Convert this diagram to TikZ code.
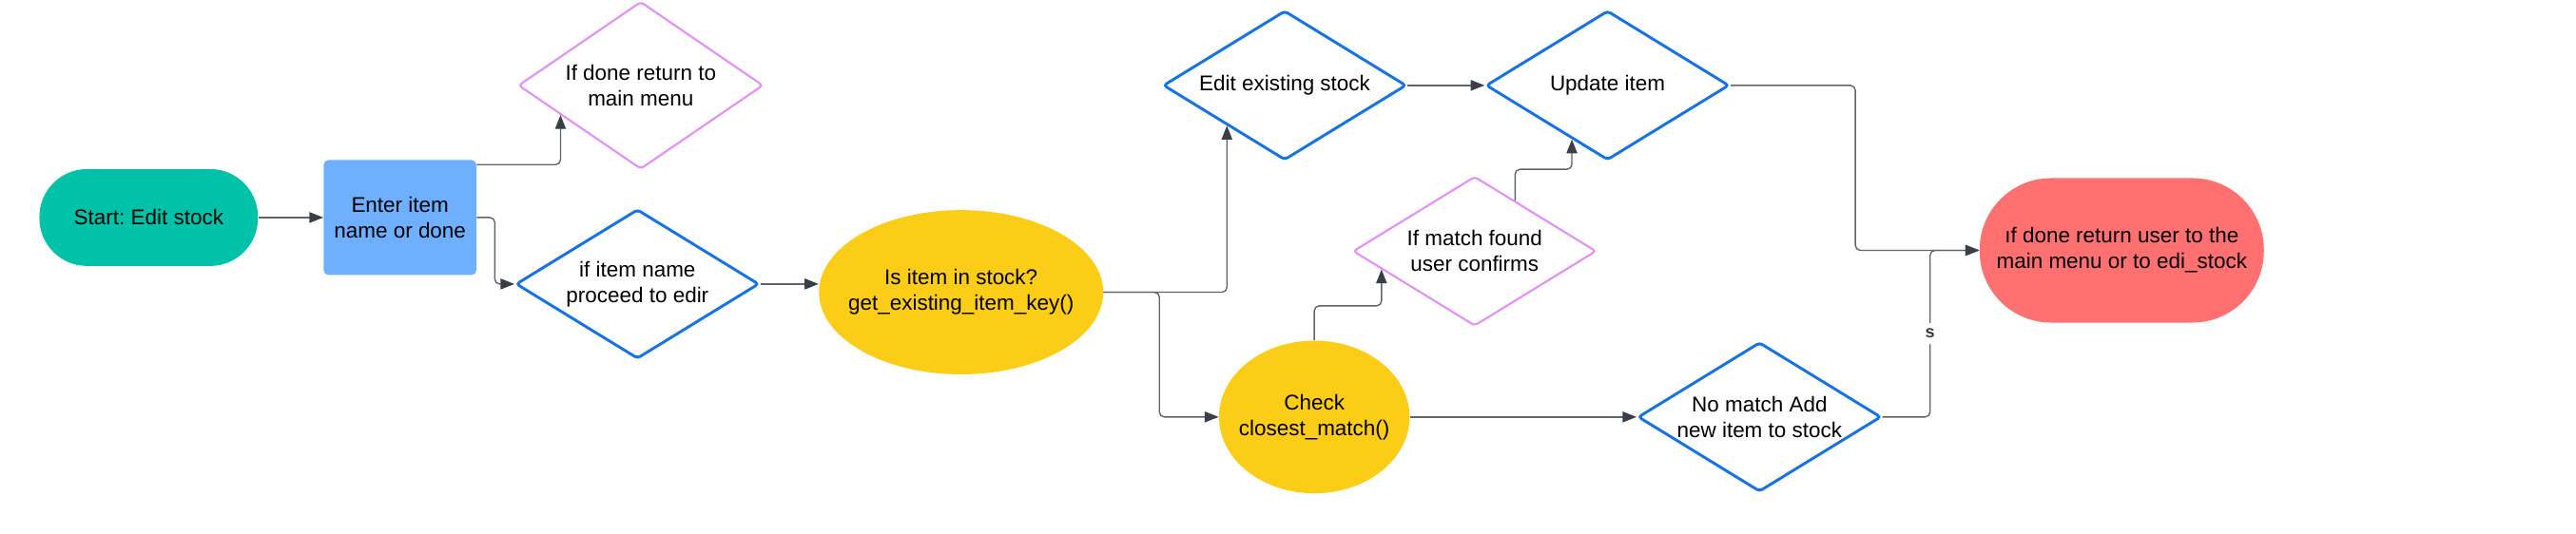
\documentclass[tikz,border=0pt]{standalone}
\usepackage{fontspec}
\setmainfont{Liberation Sans}
\usetikzlibrary{shapes.geometric,arrows.meta,calc}
\definecolor{cStart}{RGB}{0,194,168}
\definecolor{cEnter}{RGB}{110,176,255}
\definecolor{cYellow}{RGB}{252,205,22}
\definecolor{cRed}{RGB}{255,113,113}
\definecolor{cBlue}{RGB}{22,115,228}
\definecolor{cPink}{RGB}{228,142,246}
\definecolor{cLine}{RGB}{95,100,110}
\definecolor{cTip}{RGB}{58,62,72}
\frenchspacing
\begin{document}
\begin{tikzpicture}[x=1pt,y=-1pt,
  base/.style={font=\fontsize{13}{15.5}\selectfont, align=center, inner sep=0pt, text=black},
  startn/.style={base, rectangle, fill=cStart, rounded corners=29pt, minimum width=133pt, minimum height=59pt},
  enterbox/.style={base, rectangle, fill=cEnter, rounded corners=3pt, minimum width=93pt, minimum height=70pt},
  dia/.style={base, diamond, draw=cBlue, line width=1.7pt, rounded corners=2pt, aspect=1.63, minimum width=148pt, minimum height=91pt},
  pdia/.style={dia, draw=cPink, line width=1.2pt},
  yell/.style={base, ellipse, fill=cYellow, inner xsep=-20pt},
  redn/.style={base, rectangle, fill=cRed, rounded corners=43.5pt, minimum width=173pt, minimum height=88pt},
  conn/.style={draw=cLine, line width=0.8pt, rounded corners=3pt, -{Triangle[length=8.5pt,width=6.5pt,color=cTip]}},
  slab/.style={font=\bfseries\fontsize{10.5}{12}\selectfont, fill=white, text=cTip, inner xsep=2pt, inner ysep=3.5pt}
]
\useasboundingbox (0,0) rectangle (1568,325);
\fill[white] (0,0) rectangle (1568,325);

\node[startn] (start) at (90.5,132.5) {Start: Edit stock};
\node[enterbox] (enter) at (243.5,132.5) {Enter item\\name or done};
\node[pdia, aspect=1.46, minimum width=149pt, minimum height=102pt] (ifdone) at (390,52) {If done return to\\main menu};
\node[dia] (ifitem) at (388,173) {if item name\\proceed to edir};
\node[yell, minimum width=173pt, minimum height=100pt] (instock) at (585,178) {Is item in stock?\\get\_existing\_item\_key()};
\node[dia] (editex) at (782,52) {Edit existing stock};
\node[dia] (update) at (978.5,52) {Update item};
\node[pdia] (ifmatch) at (897.6,153) {If match found\\user confirms};
\node[yell, minimum width=116pt, minimum height=93pt] (check) at (800,254) {Check\\closest\_match()};
\node[dia] (nomatch) at (1071,254) {No match Add\\new item to stock};
\node[redn] (done) at (1291.5,152.5) {ıf done return user to the\\main menu or to edi\_stock};

\draw[conn] (start.east) -- (enter.west |- start.east);
\draw[conn] ($(enter.north east)+(0,3)$) -| ($(ifdone.west)!0.35!(ifdone.south)$);
\draw[conn] (enter.east) -- ++(11,0) |- (ifitem.west);
\draw[conn] (ifitem.east) -- (instock.west |- ifitem.east);
\draw[conn] (instock.east) -| ($(editex.west)!0.53!(editex.south)$);
\draw[conn] (instock.east) -- ++(34,0) |- (check.west);
\draw[conn] (check.north) -- ++(0,-21) -| ($(ifmatch.west)!0.24!(ifmatch.south)$);
\draw[conn] (check.east) -- (nomatch.west);
\draw[conn] ($(ifmatch.north)!0.33!(ifmatch.east)$) -- ++(0,-19) -| ($(update.west)!0.71!(update.south)$);
\draw[conn] (editex.east) -- (update.west);
\draw[conn] (update.east) -- ++(76,0) |- (done.west);
\draw[conn] (nomatch.east) -- ++(29,0) |- node[slab, pos=0.25] (slabel) {s} (done.west);
\end{tikzpicture}
\end{document}
